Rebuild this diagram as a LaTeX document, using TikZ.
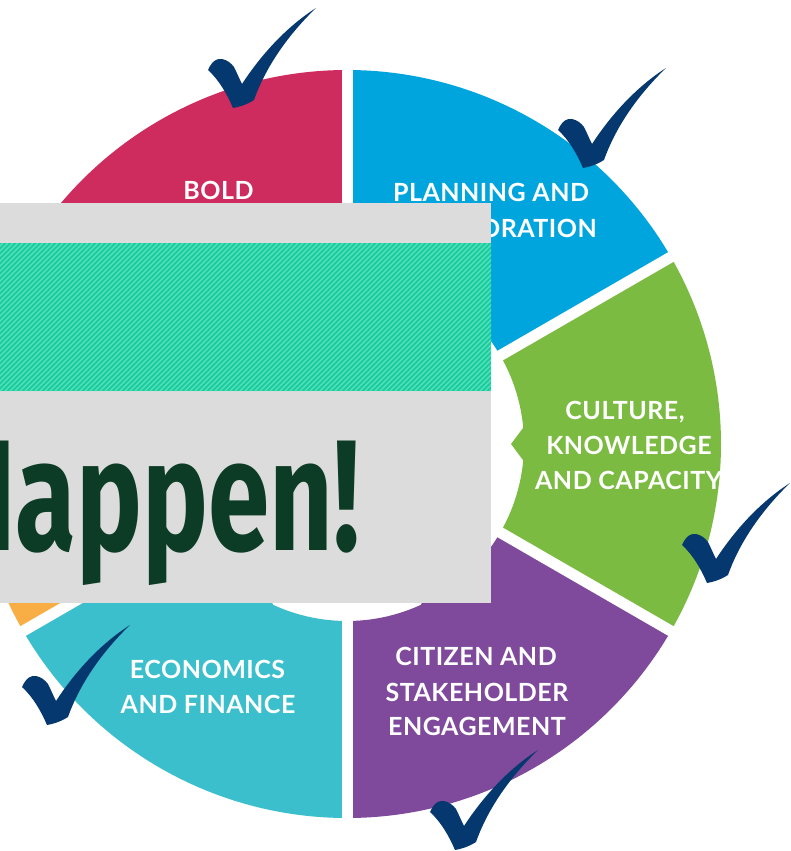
\documentclass[tikz,border=0pt]{standalone}
\usepackage{fontspec}
\usetikzlibrary{calc}
\newfontfamily\lblfont[LetterSpace=2]{Lato}
\newfontfamily\happenfont[FakeStretch=0.70]{Fira Sans}
\definecolor{segred}{RGB}{206,43,94}
\definecolor{segblue}{RGB}{0,165,222}
\definecolor{seggreen}{RGB}{124,187,66}
\definecolor{segpurple}{RGB}{127,74,155}
\definecolor{segteal}{RGB}{60,191,204}
\definecolor{segorange}{RGB}{249,174,69}
\definecolor{boxgrey}{RGB}{220,220,220}
\definecolor{hatchbase}{RGB}{26,204,156}
\definecolor{hatchline}{RGB}{88,226,190}
\definecolor{happengreen}{RGB}{12,60,38}
\definecolor{checkblue}{RGB}{5,56,110}
\tikzset{
  lbl/.style={text=white, font=\lblfont\bfseries\fontsize{25}{30}\selectfont, inner sep=0pt, anchor=base},
  checkmark/.pic={
      \fill[checkblue] (0,0) .. controls (-6,14) and (-14,28) .. (-25,38)
        .. controls (-21,47) and (-16,50) .. (-11,49)
        .. controls (-6,48) and (-2,45) .. (1,41)
        .. controls (4,35) and (6,30) .. (9,24)
        .. controls (30,56) and (55,82) .. (83,100)
        .. controls (56,74) and (33,42) .. (21,8)
        .. controls (13,3) and (6,1) .. (0,0) -- cycle;
  }
}
\begin{document}
\begin{tikzpicture}[x=1pt,y=1pt,yscale=-1]
\useasboundingbox (0,0) rectangle (790,851);
\clip (0,0) rectangle (790,851);
\fill[white] (0,0) rectangle (790,851);
\coordinate (C) at (347,444);
% wheel segments
\foreach \a/\col in {-150/segred,-90/segblue,-30/seggreen,30/segpurple,90/segteal,150/segorange}{
  \fill[\col] ($(C)+(\a:177)$) -- ($(C)+(\a:374)$)
     arc[start angle=\a, end angle=\a+60, radius=374]
     -- ($(C)+(\a+60:177)$)
     arc[start angle=\a+60, end angle=\a, radius=177] -- cycle;
  \fill[\col] ($(C)+(\a+24:179)$) -- ($(C)+(\a+30:164)$) -- ($(C)+(\a+36:179)$) -- cycle;
}
% white gaps
\foreach \a in {-150,-90,-30,30,90,150}{
  \draw[white, line width=11pt] ($(C)+(\a:150)$) -- ($(C)+(\a:392)$);
}
% labels
\node[lbl] (bold) at (218.5,199) {BOLD};
\node[lbl] (plan1) at (491,201) {PLANNING AND};
\node[lbl, anchor=base east] (plan2) at (597,237) {ORATION};
\node[lbl] (cult1) at (625,419) {CULTURE,};
\node[lbl] (cult2) at (629,454) {KNOWLEDGE};
\node[lbl] (cult3) at (628.5,489) {AND CAPACITY};
\node[lbl] (citi1) at (476,665) {CITIZEN AND};
\node[lbl] (citi2) at (477,701) {STAKEHOLDER};
\node[lbl] (citi3) at (477,735) {ENGAGEMENT};
\node[lbl] (econ1) at (207.5,678) {ECONOMICS};
\node[lbl] (econ2) at (208,713) {AND FINANCE};
% overlay box
\fill[boxgrey] (0,203) rectangle (491,603);
\begin{scope}
  \clip (0,243) rectangle (491,391);
  \fill[hatchbase] (0,243) rectangle (491,391);
  \foreach \i in {-160,-155,...,500}{
    \draw[hatchline, line width=1.2pt] (\i,391) -- (\i+148,243);
  }
\end{scope}
\node[anchor=base east, text=happengreen, inner sep=0pt,
      font=\happenfont\bfseries\fontsize{158}{158}\selectfont] (happen) at (360,550) {Happen!};
% check marks
\pic (ck1) at (233,108) {checkmark};
\pic (ck2) at (583,168) {checkmark};
\pic (ck3) at (707,583) {checkmark};
\pic (ck4) at (47,725) {checkmark};
\pic (ck5) at (455,850) {checkmark};
\end{tikzpicture}
\end{document}
